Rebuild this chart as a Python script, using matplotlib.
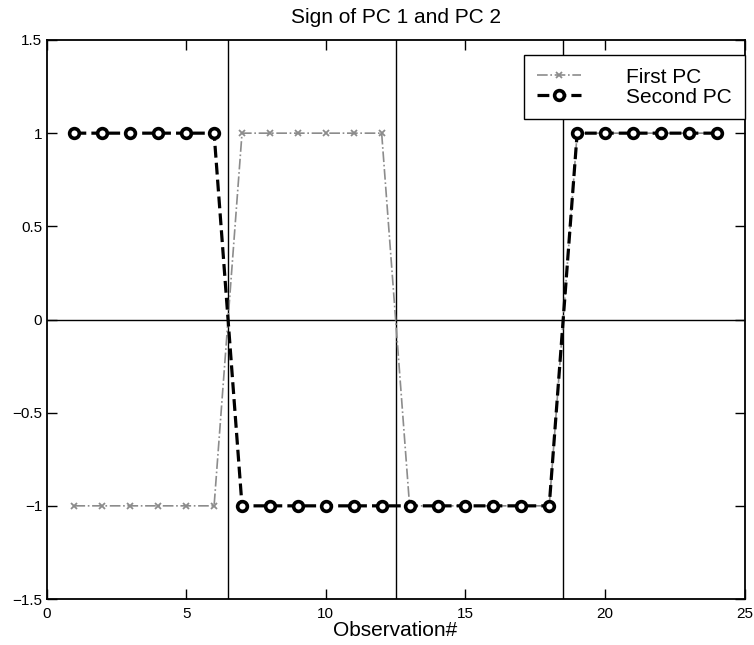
import numpy as np
import matplotlib
matplotlib.use('Agg')
import matplotlib.pyplot as plt

plt.rcParams['font.family'] = ['Liberation Sans', 'DejaVu Sans']

obs = np.arange(1, 25)
first_pc = [-1]*6 + [1]*6 + [-1]*6 + [1]*6
second_pc = [1]*6 + [-1]*12 + [1]*6
splits = [6.5, 12.5, 18.5]
x_ticks = [0, 5, 10, 15, 20, 25]
y_ticks = [-1.5, -1, -0.5, 0, 0.5, 1, 1.5]
y_labels = ['\u22121.5', '\u22121', '\u22120.5', '0', '0.5', '1', '1.5']

fig = plt.figure(figsize=(7.54, 6.45), dpi=100)
ax = fig.add_axes([0.0617, 0.0713, 0.926, 0.8667])

# group boundaries and zero line
for s in splits:
    ax.axvline(s, color='black', lw=1.0, zorder=1)
ax.axhline(0, color='black', lw=1.0, zorder=1)

ax.plot(obs, first_pc, color='#8c8c8c', ls='-.', lw=1.2, marker='x', ms=5,
        mew=1.3, label='First PC', zorder=2)
ax.plot(obs, second_pc, color='black', ls='--', lw=2.3, marker='o', ms=7,
        mfc='white', mew=2.6, label='Second PC', zorder=3)

ax.set_xlim(0, 25)
ax.set_ylim(-1.5, 1.5)
ax.set_xticks(x_ticks)
ax.set_yticks(y_ticks)
ax.set_yticklabels(y_labels)
ax.tick_params(direction='in', length=7, width=1.0, labelsize=11,
               top=True, right=True)
ax.tick_params(axis='x', pad=6)
ax.tick_params(axis='y', pad=3)
for sp in ax.spines.values():
    sp.set_linewidth(1.3)

ax.set_title('Sign of PC 1 and PC 2', fontsize=15, pad=12)
ax.set_xlabel('Observation#', fontsize=15, labelpad=0)

leg = ax.legend(loc='upper right', bbox_to_anchor=(1.0, 0.973), borderaxespad=0,
                fontsize=15, frameon=True, fancybox=False, framealpha=1,
                edgecolor='black', handlelength=2.1, handletextpad=2.2,
                labelspacing=0.05, borderpad=0.6, numpoints=1)
leg.get_frame().set_linewidth(1.0)

fig.savefig('out.png', dpi=100)
